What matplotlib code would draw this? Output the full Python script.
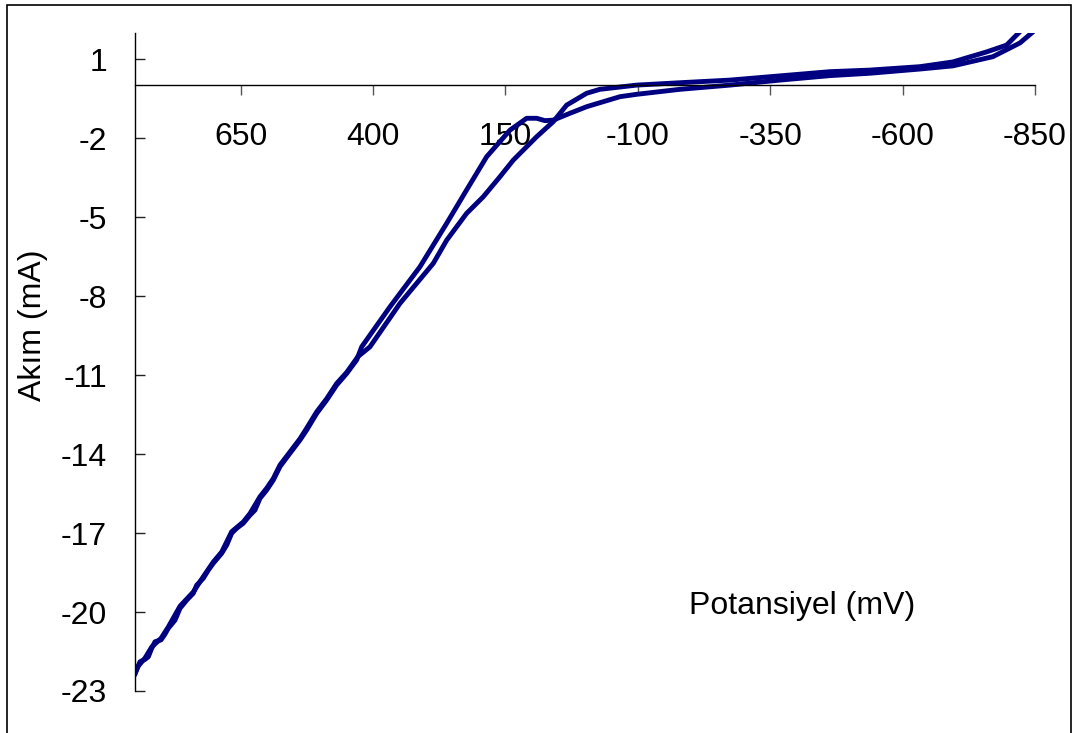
import matplotlib.pyplot as plt
from matplotlib.patches import Rectangle

plt.rcParams['font.family'] = ['Liberation Sans', 'DejaVu Sans']

# Forward scan: from +850 mV up the left branch, past the shoulder near 100 mV,
# then along the lower curve to -850 mV
fwd_mv = [850.0, 845.4, 840.0, 830.6, 824.3, 817.9, 811.7, 800.3, 792.8, 786.6,
          773.9, 764.5, 751.8, 739.4, 732.9, 720.5, 711.0, 701.6, 685.7, 676.3,
          666.9, 657.4, 645.0, 632.3, 622.9, 613.4, 600.8, 588.3, 575.7, 556.8,
          537.9, 525.3, 506.4, 487.5, 468.6, 449.7, 430.9, 421.4, 368.0, 311.4,
          260.9, 223.2, 185.4, 141.4, 109.9, 91.0, 75.3, 59.7, 28.1, -3.4,
          -66.3, -97.8, -179.6, -274.0, -368.3, -462.7, -538.3, -632.7, -695.0,
          -770.5, -821.5, -846.1, -855.0]
fwd_ma = [-22.39, -22.14, -21.89, -21.80, -21.70, -21.38, -21.13, -21.06, -20.84, -20.62,
          -20.31, -19.86, -19.55, -19.29, -18.98, -18.72, -18.41, -18.15, -17.77, -17.46,
          -17.01, -16.82, -16.63, -16.32, -16.13, -15.68, -15.37, -14.99, -14.48, -13.97,
          -13.47, -13.09, -12.46, -11.95, -11.38, -10.94, -10.43, -9.93, -8.41, -6.89,
          -5.24, -3.97, -2.71, -1.70, -1.25, -1.25, -1.34, -1.32, -1.06, -0.81,
          -0.43, -0.34, -0.15, 0.01, 0.20, 0.37, 0.46, 0.62, 0.74,
          1.09, 1.61, 2.03, 2.30]

# Reverse scan: back from -850 mV along the upper curve and down the right branch
rev_mv = [-830.0, -821.5, -796.4, -758.6, -695.0, -632.7, -538.3, -462.7, -368.3,
          -274.0, -179.6, -97.8, -28.5, -3.4, 34.4, 59.7, 91.0, 135.2, 160.3,
          191.8, 223.2, 260.9, 286.2, 349.1, 405.8, 428.4, 449.7, 468.6, 487.5,
          506.4, 525.3, 537.9, 556.8, 575.7, 588.3, 600.8, 613.4, 632.3, 645.0,
          666.9, 685.7, 701.6, 720.5, 739.4, 764.5, 786.6, 800.3, 817.9, 830.6,
          843.2, 850.0]
rev_ma = [2.30, 2.04, 1.53, 1.27, 0.89, 0.71, 0.58, 0.52, 0.36,
          0.20, 0.10, 0.01, -0.15, -0.30, -0.75, -1.38, -1.95, -2.84, -3.47,
          -4.23, -4.86, -5.88, -6.76, -8.28, -9.93, -10.30, -10.90, -11.32, -11.90,
          -12.40, -13.02, -13.42, -13.92, -14.42, -14.93, -15.30, -15.62, -16.26, -16.58,
          -16.95, -17.72, -18.10, -18.66, -19.24, -19.78, -20.57, -21.00, -21.33, -21.75,
          -22.05, -22.35]

x_ticks = [650, 400, 150, -100, -350, -600, -850]
y_ticks = [1, -2, -5, -8, -11, -14, -17, -20, -23]

fig = plt.figure(figsize=(10.74, 7.33), dpi=100)
ax = fig.add_axes([134.7 / 1074, 42 / 733, 900.3 / 1074, 658.3 / 733])

line_color = '#000080'
ax.plot(fwd_mv, fwd_ma, color=line_color, lw=3.5, solid_capstyle='round',
        solid_joinstyle='round')
ax.plot(rev_mv, rev_ma, color=line_color, lw=3.5, solid_capstyle='round',
        solid_joinstyle='round')

ax.set_xlim(850, -850)
ax.set_ylim(-23, 2)

for side in ['top', 'right']:
    ax.spines[side].set_visible(False)
ax.spines['bottom'].set_position(('data', 0))
ax.spines['left'].set_linewidth(1.0)
ax.spines['bottom'].set_linewidth(1.0)

ax.set_xticks(x_ticks)
ax.set_xticklabels([str(v) for v in x_ticks])
ax.set_yticks(y_ticks)
ax.set_yticklabels([str(v) for v in y_ticks])
ax.tick_params(axis='x', direction='out', length=7.5, width=1.0, color='#555555',
               pad=19, labelsize=23)
ax.tick_params(axis='y', direction='in', length=7.5, width=1.0, color='#222222',
               pad=20, labelsize=23)

ax.set_xlabel('Potansiyel (mV)', fontsize=23)
ax.xaxis.set_label_coords(0.741, 0.129)
ax.xaxis.label.set_verticalalignment('center')
ax.set_ylabel('Akım (mA)', fontsize=23)
ax.yaxis.set_label_coords(-0.1125, 0.556)
ax.yaxis.label.set_verticalalignment('center')

# thin frame around the whole chart area
fig.patches.append(Rectangle((7 / 1074, -0.02), 1064 / 1074, 1.02 - 5 / 733,
                             transform=fig.transFigure, fill=False,
                             edgecolor='black', lw=1.2))

fig.savefig('out.png', dpi=100)
